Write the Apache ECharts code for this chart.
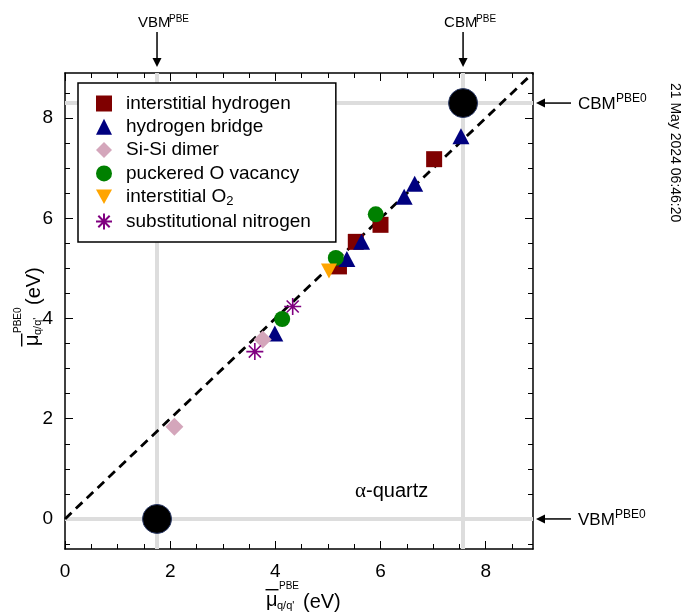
<!DOCTYPE html>
<html>
<head>
<meta charset="utf-8">
<script src="https://cdn.jsdelivr.net/npm/echarts@6/dist/echarts.min.js"></script>
<style>
  html, body { margin: 0; padding: 0; background: #fff; }
  #chart { width: 695px; height: 612px; }
</style>
</head>
<body>
<div id="chart"></div>
<script>
// axis ranges and ticks
const xMin = 0, xMax = 8.9;
const yMin = -0.6, yMax = 8.9;
const majorTicks = [0, 2, 4, 6, 8];
const minorTicksX = [0.5, 1, 1.5, 2.5, 3, 3.5, 4.5, 5, 5.5, 6.5, 7, 7.5, 8.5];
const minorTicksY = [-0.5, 0.5, 1, 1.5, 2.5, 3, 3.5, 4.5, 5, 5.5, 6.5, 7, 7.5, 8.5];

// band edges (PBE on x, PBE0 on y)
const vbmPBE = 1.75, cbmPBE = 7.57;
const vbmPBE0 = 0, cbmPBE0 = 8.3;
const bandEdges = [[vbmPBE, vbmPBE0], [cbmPBE, cbmPBE0]];

// y = x guide
const diagLine = [[0, 0], [8.9, 8.9]];

// defect levels [PBE, PBE0]
const interstitialH = [[5.21, 5.04], [5.53, 5.53], [6.0, 5.87], [7.02, 7.18]];
const hydrogenBridge = [[3.99, 3.70], [5.36, 5.19], [5.64, 5.53], [6.45, 6.43], [6.65, 6.69], [7.53, 7.64]];
const siSiDimer = [[2.08, 1.84], [3.76, 3.58]];
const puckeredOVac = [[4.13, 3.99], [5.15, 5.21], [5.91, 6.08]];
const interstitialO2 = [[5.02, 4.95]];
const substN = [[3.61, 3.34], [4.33, 4.24]];

const FONT = '"Liberation Sans", Arial, sans-serif';
const asteriskPath = 'path://M10,0 L10,20 M0,10 L20,10 M2.9,2.9 L17.1,17.1 M2.9,17.1 L17.1,2.9';
const downTriPath = 'path://M0,0 L20,0 L10,18 Z';

const chart = echarts.init(document.getElementById('chart'), null, { renderer: 'canvas' });

function xAxisDef(pos, isMajor) {
  return {
    type: 'value', position: pos, min: xMin, max: xMax,
    axisLine: { show: isMajor, onZero: false, lineStyle: { color: '#000', width: 1.5 } },
    axisTick: { show: true, inside: true, length: isMajor ? 8 : 5, customValues: isMajor ? majorTicks : minorTicksX, lineStyle: { color: '#000', width: 1 } },
    axisLabel: { show: isMajor && pos === 'bottom', customValues: majorTicks, color: '#000', fontSize: 19, fontFamily: FONT, margin: 13 },
    splitLine: { show: false }
  };
}
function yAxisDef(pos, isMajor) {
  return {
    type: 'value', position: pos, min: yMin, max: yMax,
    axisLine: { show: isMajor, onZero: false, lineStyle: { color: '#000', width: 1.5 } },
    axisTick: { show: true, inside: true, length: isMajor ? 8 : 5, customValues: isMajor ? majorTicks : minorTicksY, lineStyle: { color: '#000', width: 1 } },
    axisLabel: { show: isMajor && pos === 'left', customValues: majorTicks, color: '#000', fontSize: 19, fontFamily: FONT, margin: 12 },
    splitLine: { show: false }
  };
}

function scatter(name, data, symbol, size, itemStyle) {
  return {
    name, type: 'scatter', data, symbol, symbolSize: size,
    itemStyle: Object.assign({ opacity: 1 }, itemStyle),
    xAxisIndex: 0, yAxisIndex: 0, z: 5,
    emphasis: { disabled: true }
  };
}

chart.setOption({
  animation: false,
  textStyle: { fontFamily: FONT },
  grid: { left: 65, right: 162, top: 73, bottom: 63, containLabel: false, outerBoundsMode: 'none' },
  xAxis: [xAxisDef('bottom', true), xAxisDef('bottom', false), xAxisDef('top', true), xAxisDef('top', false)],
  yAxis: [yAxisDef('left', true), yAxisDef('left', false), yAxisDef('right', true), yAxisDef('right', false)],
  legend: {
    orient: 'vertical', left: 78, top: 83,
    padding: [11, 25, 11, 17],
    itemWidth: 16, itemHeight: 16, itemGap: 4.3,
    backgroundColor: '#fff',
    borderColor: '#000', borderWidth: 1.5,
    selectedMode: false,
    z: 10,
    textStyle: { fontSize: 19, color: '#000', fontFamily: FONT, padding: [0, 0, 0, 9],
      rich: { sub: { fontSize: 13, color: '#000', fontFamily: FONT, padding: [9, 0, 0, 0] } } },
    formatter: name => name === 'interstitial O2' ? 'interstitial O{sub|2}' : name,
    data: ['interstitial hydrogen', 'hydrogen bridge', 'Si-Si dimer', 'puckered O vacancy', 'interstitial O2', 'substitutional nitrogen']
  },
  series: [
    {
      name: 'guides', type: 'line', data: [], silent: true, z: 1,
      markLine: {
        silent: true, symbol: 'none', label: { show: false }, z: 1,
        lineStyle: { color: '#DDDDDD', width: 4, type: 'solid', opacity: 1 },
        emphasis: { disabled: true },
        data: [{ xAxis: vbmPBE }, { xAxis: cbmPBE }, { yAxis: vbmPBE0 }, { yAxis: cbmPBE0 }]
      }
    },
    {
      name: 'diag', type: 'line', data: diagLine, showSymbol: false, silent: true, z: 2,
      lineStyle: { color: '#000', width: 2.8, type: [9, 6] }
    },
    scatter('interstitial hydrogen', interstitialH, 'rect', 16, { color: '#7F0000' }),
    scatter('hydrogen bridge', hydrogenBridge, 'triangle', [17, 16], { color: '#00007F' }),
    scatter('Si-Si dimer', siSiDimer, 'diamond', 18, { color: '#D4A6BB' }),
    scatter('puckered O vacancy', puckeredOVac, 'circle', 16, { color: '#008000' }),
    scatter('interstitial O2', interstitialO2, downTriPath, [16, 15], { color: '#FFA500' }),
    scatter('substitutional nitrogen', substN, asteriskPath, 17, { color: 'rgba(0,0,0,0)', borderColor: '#800080', borderWidth: 1.6 }),
    {
      name: 'band edges', type: 'scatter', data: bandEdges, symbol: 'circle', symbolSize: 29, z: 6,
      itemStyle: { color: '#000', borderColor: '#2B3A67', borderWidth: 1, opacity: 1 },
      emphasis: { disabled: true }
    }
  ]
});

// annotations placed from the axis scales
function muTitle(x, y, rotation, sup, evOffset) {
  return {
    type: 'group', x, y, rotation, silent: true,
    children: [
      { type: 'text', x: 1, y: -2, style: { text: 'μ', fontSize: 20, fontFamily: FONT, fill: '#000', align: 'left', verticalAlign: 'middle' } },
      { type: 'rect', shape: { x: 0.5, y: -13, width: 13, height: 1.4 }, style: { fill: '#000' } },
      { type: 'text', x: 14, y: -16, style: { text: sup, fontSize: 10, fontFamily: FONT, fill: '#000', align: 'left', verticalAlign: 'middle' } },
      { type: 'text', x: 12, y: 4, style: { text: "q/q'", fontSize: 11, fontFamily: FONT, fill: '#000', align: 'left', verticalAlign: 'middle' } },
      { type: 'text', x: evOffset, y: 0, style: { text: '(eV)', fontSize: 20, fontFamily: FONT, fill: '#000', align: 'left', verticalAlign: 'middle' } }
    ]
  };
}

function topMarker(label, xVal) {
  const px = chart.convertToPixel({ xAxisIndex: 0 }, xVal);
  return {
    type: 'group', silent: true,
    children: [
      { type: 'text', x: px - 19, y: 23, style: { text: label, fontSize: 15, fontFamily: FONT, fill: '#000', align: 'left', verticalAlign: 'middle' } },
      { type: 'text', x: px - 19 + (label === 'VBM' ? 31 : 32), y: 19, style: { text: 'PBE', fontSize: 10, fontFamily: FONT, fill: '#000', align: 'left', verticalAlign: 'middle' } },
      { type: 'line', shape: { x1: px, y1: 32, x2: px, y2: 60 }, style: { stroke: '#000', lineWidth: 1.5 } },
      { type: 'polygon', shape: { points: [[px - 4.5, 58], [px + 4.5, 58], [px, 67]] }, style: { fill: '#000' } }
    ]
  };
}

function rightMarker(label, yVal) {
  const py = chart.convertToPixel({ yAxisIndex: 0 }, yVal);
  return {
    type: 'group', silent: true,
    children: [
      { type: 'line', shape: { x1: 571, y1: py, x2: 543, y2: py }, style: { stroke: '#000', lineWidth: 1.5 } },
      { type: 'polygon', shape: { points: [[545, py - 4.5], [545, py + 4.5], [536, py]] }, style: { fill: '#000' } },
      { type: 'text', x: 578, y: py + 1, style: { text: label, fontSize: 17, fontFamily: FONT, fill: '#000', align: 'left', verticalAlign: 'middle' } },
      { type: 'text', x: 578 + (label === 'VBM' ? 37 : 38), y: py - 4, style: { text: 'PBE0', fontSize: 12, fontFamily: FONT, fill: '#000', align: 'left', verticalAlign: 'middle' } }
    ]
  };
}

chart.setOption({
  graphic: [
    muTitle(265, 602, 0, 'PBE', 38),
    muTitle(34, 347, Math.PI / 2, 'PBE0', 42),
    topMarker('VBM', vbmPBE),
    topMarker('CBM', cbmPBE),
    rightMarker('CBM', cbmPBE0),
    rightMarker('VBM', vbmPBE0),
    {
      type: 'text', x: 355, y: 491, silent: true,
      style: {
        text: '{a|α}-quartz', fontSize: 20, fontFamily: FONT, fill: '#000', align: 'left', verticalAlign: 'middle',
        rich: { a: { fontSize: 21, fontFamily: '"Liberation Serif", serif', fill: '#000' } }
      }
    },
    {
      type: 'text', x: 675, y: 83, rotation: -Math.PI / 2, silent: true,
      style: { text: '21 May 2024 06:46:20', fontSize: 14, fontFamily: FONT, fill: '#000', align: 'left', verticalAlign: 'middle' }
    }
  ]
});
</script>
</body>
</html>
